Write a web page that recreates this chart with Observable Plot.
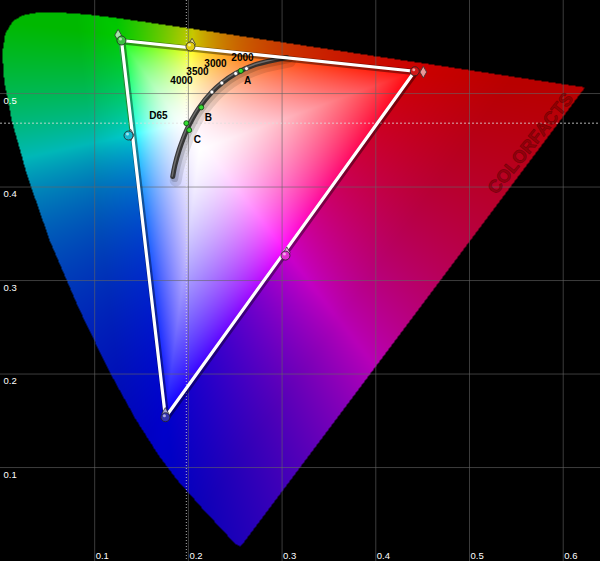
<!DOCTYPE html>
<html><head><meta charset="utf-8">
<script src="https://cdn.jsdelivr.net/npm/d3@7"></script>
<script src="https://cdn.jsdelivr.net/npm/@observablehq/plot@0.6"></script>
<style>html,body{margin:0;padding:0;background:#fff;} #chart svg{display:block;}</style>
</head><body><div id="chart"></div>
<script>
// CIE 1976 u'v' spectral locus (wavelength nm, u', v')
const wavelengths = [380,400,420,430,440,450,460,465,470,475,480,485,490,495,500,505,510,515,520,525,530,535,540,545,550,555,560,570,580,590,600,610,620,640,650,660,700];
const locusU = [0.2568,0.2557,0.2522,0.2461,0.2347,0.2161,0.1877,0.1690,0.1441,0.1147,0.0828,0.0521,0.0282,0.0119,0.0035,0.0014,0.0046,0.0123,0.0231,0.0360,0.0501,0.0643,0.0792,0.0953,0.1127,0.1319,0.1531,0.2026,0.2623,0.3315,0.4035,0.4692,0.5203,0.5830,0.6005,0.6109,0.6234];
const locusV = [0.0166,0.0159,0.0169,0.0226,0.0350,0.0549,0.0871,0.1119,0.1510,0.2044,0.2708,0.3427,0.4117,0.4698,0.5131,0.5432,0.5638,0.5770,0.5837,0.5861,0.5868,0.5865,0.5856,0.5841,0.5821,0.5796,0.5766,0.5694,0.5604,0.5501,0.5393,0.5296,0.5219,0.5125,0.5099,0.5084,0.5065];

// Planckian locus
const planckK = [2000,2500,3000,3500,4000,5000,6000,7000,8000,10000,15000,25000];
const planckU = [0.3051,0.2722,0.2505,0.2357,0.2251,0.2114,0.2033,0.1981,0.1946,0.1903,0.1857,0.1833];
const planckV = [0.5386,0.5311,0.5214,0.5113,0.5016,0.4847,0.4712,0.4606,0.4521,0.4400,0.4236,0.4112];

// CCT markers and labels
const cctLabels = ["2000","3000","3500","4000"];
const cctDotU = [0.2620,0.2505,0.2357,0.2251];
const cctDotV = [0.5267,0.5214,0.5113,0.5016];
const cctLabelU = [0.2577,0.2289,0.2097,0.1926];
const cctLabelV = [0.5385,0.5321,0.5235,0.5139];

// Illuminants
const illumNames = ["A","B","C","D65"];
const illumU = [0.2560,0.2137,0.2009,0.1978];
const illumV = [0.5243,0.4852,0.4609,0.4683];
const illumLabelU = [0.2631,0.2214,0.2097,0.1680];
const illumLabelV = [0.5139,0.4743,0.4508,0.4765];

// Gamut: target (diamonds) and measured (circles)
const patchNames = ["Red","Green","Blue","Yellow","Cyan","Magenta"];
const patchColors = ["#d01818","#3cc040","#3434b0","#e0cc10","#18b8d0","#e030d0"];
const targetU = [0.4507,0.1250,0.1754,0.2039,0.1384,0.3050];
const targetV = [0.5229,0.5625,0.1579,0.5529,0.4555,0.3298];
const measuredU = [0.4416,0.1286,0.1755,0.2022,0.1361,0.3036];
const measuredV = [0.5238,0.5567,0.1538,0.5503,0.4551,0.3267];

// Axis ticks
const xTicks = [0.1,0.2,0.3,0.4,0.5,0.6];
const yTicks = [0.1,0.2,0.3,0.4,0.5];
const xTickLabels = ["0.1","0.2","0.3","0.4","0.5","0.6"];
const yTickLabels = ["0.1","0.2","0.3","0.4","0.5"];

const watermark = "COLORFACTS";

// ---- derived tables ----
const locus = wavelengths.map((w,i)=>({w,u:locusU[i],v:locusV[i]}));
const locusPoly = locus.map(d=>[d.u,d.v]);
const planck = planckK.map((k,i)=>({k,u:planckU[i],v:planckV[i]}));
const ccts = cctLabels.map((t,i)=>({t,u:cctDotU[i],v:cctDotV[i],lu:cctLabelU[i],lv:cctLabelV[i]}));
const illums = illumNames.map((t,i)=>({t,u:illumU[i],v:illumV[i],lu:illumLabelU[i],lv:illumLabelV[i]}));
const patches = patchNames.map((n,i)=>({n,c:patchColors[i],tu:targetU[i],tv:targetV[i],mu:measuredU[i],mv:measuredV[i]}));
const tri = [patches[1],patches[0],patches[2],patches[1]];
const xt = xTicks.map((t,i)=>({t,l:xTickLabels[i]}));
const yt = yTicks.map((t,i)=>({t,l:yTickLabels[i]}));

// rendering of the diagram colours
const triPts = [[measuredU[1],measuredV[1]],[measuredU[0],measuredV[0]],[measuredU[2],measuredV[2]]];
const whiteC = [0.212, 0.440];
function rayFrac(u, v) {
  const dx = u - whiteC[0], dy = v - whiteC[1];
  let best = Infinity;
  for (let k = 0; k < 3; ++k) {
    const A = triPts[k], B = triPts[(k+1)%3];
    const ex = B[0]-A[0], ey = B[1]-A[1];
    const den = dx*(-ey) - dy*(-ex);
    if (Math.abs(den) < 1e-12) continue;
    const ax = A[0]-whiteC[0], ay = A[1]-whiteC[1];
    const s = (ax*(-ey) - ay*(-ex)) / den;
    const q = (dx*ay - dy*ax) / den;
    if (s > 0 && q >= -1e-9 && q <= 1+1e-9 && s < best) best = s;
  }
  return best === Infinity ? 0 : 1/best;
}
function uvColor(u, v) {
  if (!d3.polygonContains(locusPoly, [u, v])) return "rgb(0,0,0)";
  const d = 6*u - 16*v + 12;
  const x = 9*u/d, y = 4*v/d;
  if (y <= 0.0005) return "rgb(0,0,0)";
  const X = x/y, Z = (1-x-y)/y;
  let r = 3.2406*X - 1.5372 - 0.4986*Z;
  let g = -0.9689*X + 1.8758 + 0.0415*Z;
  let b = 0.0557*X - 0.2040 + 1.0570*Z;
  r = Math.max(r,0); g = Math.max(g,0); b = Math.max(b,0);
  const mx = Math.max(r,g,b);
  const t = rayFrac(u, v);
  const p = t <= 1 ? 0.85 : 1.0;
  r = Math.pow(r/mx, p); g = Math.pow(g/mx, p); b = Math.pow(b/mx, p);
  let dim = 1, w = 0;
  if (t <= 1) w = Math.pow(1 - t, 0.9);
  else dim = 0.8 - 0.08*Math.min(1, (t-1)*1.5);
  const f = c => Math.round(255*dim*(c + (1-c)*w));
  return `rgb(${f(r)},${f(g)},${f(b)})`;
}

const font = "Liberation Sans, Arial, sans-serif";
const xDomain = [-0.0005, 0.6398], yDomain = [-0.0005, 0.5995];

const chart = Plot.plot({
  width: 600, height: 561,
  margin: 0,
  x: {domain: xDomain, axis: null},
  y: {domain: yDomain, axis: null},
  style: {background: "black", fontFamily: font},
  marks: [
    Plot.raster({fill: uvColor, x1: xDomain[0], x2: xDomain[1], y1: yDomain[0], y2: yDomain[1], pixelSize: 1}),
    Plot.ruleX(xt, {x: "t", stroke: "rgb(100,100,100)", strokeOpacity: 0.6}),
    Plot.ruleY(yt, {y: "t", stroke: "rgb(100,100,100)", strokeOpacity: 0.6}),
    Plot.ruleX([illumU[3]], {stroke: "#ddd", strokeOpacity: 0.8, strokeDasharray: "1,2"}),
    Plot.ruleY([illumV[3]], {stroke: "#ddd", strokeOpacity: 0.8, strokeDasharray: "2,2"}),
    Plot.text(xt, {x: "t", y: yDomain[0], text: "l", fill: "white", fontSize: 9.5, textAnchor: "start", dx: 1, dy: -6}),
    Plot.text(yt, {x: xDomain[0], y: "t", text: "l", fill: "white", fontSize: 9.5, textAnchor: "start", dx: 3, dy: 7}),
    // watermark
    Plot.text([watermark], {x: [0.5651], y: [0.4465], text: d=>d, rotate: -51, fontSize: 18, fontWeight: "bold", fill: "rgb(110,0,0)", fillOpacity: 0.5, stroke: "rgb(50,0,0)", strokeOpacity: 0.45, strokeWidth: 0.8}),
    // target edge green-cyan
    Plot.line([patches[1], patches[4]], {x: "tu", y: "tv", stroke: "#22aa44", strokeWidth: 1.5}),
    // Planckian locus
    Plot.line(planck, {x: "u", y: "v", curve: "catmull-rom", stroke: "black", strokeOpacity: 0.1, strokeWidth: 12, dx: 3, dy: 4}),
    Plot.line(planck, {x: "u", y: "v", curve: "catmull-rom", stroke: "black", strokeOpacity: 0.15, strokeWidth: 7, dx: 2, dy: 2}),
    Plot.line(planck, {x: "u", y: "v", curve: "catmull-rom", stroke: "#2a2a2a", strokeWidth: 5, strokeOpacity: 0.92}),
    Plot.line(planck, {x: "u", y: "v", curve: "catmull-rom", stroke: "#7a7a7a", strokeWidth: 1.5, strokeOpacity: 0.8, dx: -0.5, dy: -0.5}),
    // triangle
    Plot.line(tri, {x: "mu", y: "mv", stroke: "black", strokeOpacity: 0.4, strokeWidth: 6, strokeLinejoin: "miter", dx: 1, dy: 1}),
    Plot.line(tri, {x: "mu", y: "mv", stroke: "white", strokeWidth: 3.2, strokeLinejoin: "miter"}),
    // cct dots
    Plot.dot(ccts, {x: "u", y: "v", r: 2, fill: "white", stroke: "#333", strokeWidth: 0.6}),
    Plot.text(ccts, {x: "lu", y: "lv", text: "t", fill: "black", fontSize: 10, fontWeight: "bold"}),
    // illuminants
    Plot.dot(illums, {x: "u", y: "v", r: 2.5, fill: "#33dd33", stroke: "#064406", strokeWidth: 0.8}),
    Plot.text(illums, {x: "lu", y: "lv", text: "t", fill: "black", fontSize: 10, fontWeight: "bold"}),
    // target diamonds
    Plot.dot(patches, {x: "tu", y: "tv", symbol: "diamond", r: 3.5, fill: d => d3.interpolateRgb(d.c, "white")(0.55), stroke: "#333", strokeWidth: 0.8}),
    // measured circles
    Plot.dot(patches, {x: "mu", y: "mv", r: 4.5, fill: "c", stroke: "#222", strokeWidth: 0.8}),
    Plot.dot(patches, {x: "mu", y: "mv", r: 1.5, fill: "white", fillOpacity: 0.6, dx: -1, dy: -1.5})
  ]
});
document.getElementById("chart").appendChild(chart);
</script>
</body></html>
